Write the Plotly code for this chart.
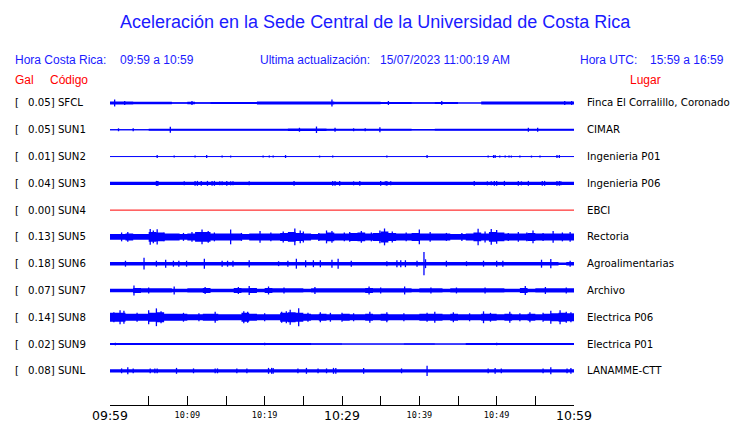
import plotly.graph_objects as go

# ---------------- data ----------------
CODES = ["SFCL", "SUN1", "SUN2", "SUN3", "SUN4", "SUN5", "SUN6", "SUN7", "SUN8", "SUN9", "SUNL"]
GAL_MAX = ["0.05", "0.05", "0.01", "0.04", "0.00", "0.13", "0.18", "0.07", "0.14", "0.02", "0.08"]
PLACES = ["Finca El Corralillo, Coronado", "CIMAR", "Ingenieria P01", "Ingenieria P06", "EBCI",
          "Rectoria", "Agroalimentarias", "Archivo", "Electrica P06", "Electrica P01", "LANAMME-CTT"]

TICK_MIN_ALL = [0, 5, 10, 15, 20, 25, 30, 35, 40, 45, 50, 55, 60]
TICK_MIN_MAJOR = [0, 30, 60]
TICK_LBL_MAJOR = ["09:59", "10:29", "10:59"]
TICK_MIN_MINOR = [10, 20, 40, 50]
TICK_LBL_MINOR = ["10:09", "10:19", "10:39", "10:49"]

# per-minute dense envelope (half amplitude, Gal), minutes 0..59 after 09:59
ENV_SFCL = [0.023, 0.023, 0.023, 0.020, 0.020, 0.020, 0.020, 0.020, 0.012, 0.012,
            0.020, 0.012, 0.012, 0.015, 0.015, 0.015, 0.015, 0.015, 0.015, 0.022,
            0.022, 0.022, 0.022, 0.022, 0.022, 0.022, 0.022, 0.022, 0.022, 0.020,
            0.020, 0.020, 0.020, 0.020, 0.020, 0.015, 0.015, 0.015, 0.015, 0.012,
            0.012, 0.012, 0.015, 0.015, 0.015, 0.008, 0.008, 0.008, 0.022, 0.022,
            0.022, 0.022, 0.022, 0.022, 0.022, 0.022, 0.022, 0.022, 0.022, 0.022]
ENV_SUN1 = [0.009, 0.009, 0.009, 0.009, 0.009, 0.017, 0.017, 0.017, 0.017, 0.017,
            0.017, 0.017, 0.017, 0.017, 0.017, 0.017, 0.017, 0.017, 0.017, 0.017,
            0.017, 0.017, 0.017, 0.020, 0.020, 0.020, 0.020, 0.020, 0.017, 0.017,
            0.017, 0.017, 0.017, 0.017, 0.017, 0.017, 0.017, 0.017, 0.017, 0.012,
            0.012, 0.012, 0.017, 0.017, 0.017, 0.017, 0.017, 0.017, 0.017, 0.017,
            0.017, 0.017, 0.017, 0.017, 0.017, 0.017, 0.017, 0.017, 0.017, 0.017]
ENV_SUN2 = None
ENV_SUN3 = [0.026, 0.026, 0.026, 0.026, 0.026, 0.026, 0.026, 0.026, 0.026, 0.026,
            0.026, 0.026, 0.026, 0.026, 0.026, 0.026, 0.026, 0.026, 0.026, 0.026,
            0.026, 0.026, 0.026, 0.026, 0.026, 0.026, 0.026, 0.026, 0.026, 0.026,
            0.026, 0.026, 0.026, 0.026, 0.026, 0.026, 0.026, 0.026, 0.026, 0.026,
            0.026, 0.026, 0.026, 0.026, 0.026, 0.026, 0.026, 0.026, 0.026, 0.026,
            0.026, 0.026, 0.026, 0.026, 0.026, 0.026, 0.026, 0.026, 0.026, 0.026]
ENV_SUN4 = None
ENV_SUN5 = [0.046, 0.046, 0.054, 0.046, 0.046, 0.077, 0.069, 0.054, 0.054, 0.046,
            0.054, 0.077, 0.077, 0.054, 0.054, 0.054, 0.054, 0.046, 0.054, 0.054,
            0.054, 0.054, 0.062, 0.077, 0.062, 0.054, 0.046, 0.054, 0.069, 0.054,
            0.054, 0.062, 0.069, 0.054, 0.062, 0.085, 0.062, 0.054, 0.054, 0.062,
            0.054, 0.054, 0.054, 0.054, 0.046, 0.046, 0.054, 0.069, 0.054, 0.077,
            0.069, 0.054, 0.054, 0.054, 0.062, 0.054, 0.054, 0.054, 0.054, 0.054]
ENV_SUN6 = [0.028, 0.028, 0.028, 0.028, 0.028, 0.028, 0.028, 0.028, 0.028, 0.028,
            0.028, 0.028, 0.028, 0.028, 0.028, 0.028, 0.028, 0.028, 0.028, 0.028,
            0.028, 0.028, 0.028, 0.028, 0.028, 0.028, 0.028, 0.028, 0.028, 0.028,
            0.028, 0.028, 0.028, 0.028, 0.028, 0.028, 0.028, 0.028, 0.028, 0.028,
            0.028, 0.028, 0.028, 0.028, 0.028, 0.028, 0.028, 0.028, 0.028, 0.028,
            0.028, 0.028, 0.028, 0.028, 0.028, 0.028, 0.028, 0.028, 0.020, 0.028]
ENV_SUN7 = [0.026, 0.026, 0.026, 0.040, 0.033, 0.033, 0.033, 0.033, 0.028, 0.026,
            0.033, 0.033, 0.040, 0.028, 0.028, 0.028, 0.040, 0.033, 0.040, 0.028,
            0.040, 0.033, 0.033, 0.033, 0.033, 0.028, 0.033, 0.033, 0.033, 0.033,
            0.033, 0.033, 0.033, 0.040, 0.033, 0.033, 0.033, 0.033, 0.033, 0.028,
            0.033, 0.033, 0.033, 0.028, 0.033, 0.033, 0.033, 0.033, 0.033, 0.033,
            0.033, 0.028, 0.028, 0.040, 0.028, 0.033, 0.033, 0.033, 0.033, 0.033]
ENV_SUN8 = [0.069, 0.069, 0.054, 0.054, 0.054, 0.069, 0.077, 0.054, 0.054, 0.054,
            0.046, 0.046, 0.054, 0.054, 0.046, 0.046, 0.046, 0.069, 0.054, 0.046,
            0.046, 0.046, 0.069, 0.077, 0.069, 0.054, 0.046, 0.054, 0.046, 0.046,
            0.054, 0.046, 0.046, 0.054, 0.046, 0.054, 0.046, 0.046, 0.046, 0.046,
            0.054, 0.054, 0.054, 0.046, 0.054, 0.046, 0.046, 0.046, 0.054, 0.054,
            0.046, 0.054, 0.046, 0.046, 0.054, 0.046, 0.054, 0.062, 0.069, 0.062]
ENV_SUN9 = [0.015, 0.015, 0.015, 0.015, 0.015, 0.015, 0.015, 0.015, 0.015, 0.015,
            0.015, 0.015, 0.015, 0.015, 0.015, 0.015, 0.015, 0.015, 0.015, 0.015,
            0.015, 0.015, 0.015, 0.015, 0.015, 0.015, 0.012, 0.012, 0.012, 0.012,
            0.008, 0.008, 0.008, 0.008, 0.008, 0.008, 0.008, 0.008, 0.012, 0.012,
            0.012, 0.012, 0.008, 0.008, 0.008, 0.008, 0.015, 0.015, 0.015, 0.015,
            0.015, 0.015, 0.015, 0.015, 0.015, 0.015, 0.015, 0.015, 0.015, 0.015]
ENV_SUNL = [0.026, 0.026, 0.026, 0.026, 0.026, 0.026, 0.026, 0.026, 0.026, 0.026,
            0.026, 0.026, 0.026, 0.026, 0.026, 0.026, 0.026, 0.026, 0.026, 0.026,
            0.026, 0.026, 0.026, 0.026, 0.026, 0.026, 0.026, 0.026, 0.026, 0.026,
            0.026, 0.026, 0.026, 0.026, 0.026, 0.026, 0.026, 0.026, 0.026, 0.026,
            0.026, 0.026, 0.026, 0.026, 0.026, 0.026, 0.026, 0.026, 0.026, 0.026,
            0.026, 0.026, 0.026, 0.026, 0.026, 0.026, 0.026, 0.026, 0.026, 0.026]

# isolated peaks: (minute after 09:59, half amplitude in Gal)
SPK_SFCL = [(0.6, 0.054), (1.9, 0.031), (10.6, 0.031), (28.7, 0.054), (36.0, 0.031),
            (42.9, 0.031), (58.8, 0.031), (59.7, 0.031)]
SPK_SUN1 = [(1.1, 0.023), (3.0, 0.023), (7.8, 0.046), (24.5, 0.031), (26.7, 0.05),
            (29.1, 0.031), (31.5, 0.023), (33.0, 0.023), (34.9, 0.038), (54.1, 0.031), (55.3, 0.031)]
SPK_SUN2 = [(6.1, 0.023), (8.3, 0.015), (11.0, 0.015), (12.5, 0.023), (14.5, 0.015),
            (15.6, 0.015), (19.8, 0.015), (20.6, 0.015), (21.1, 0.015), (22.7, 0.023),
            (27.1, 0.015), (28.8, 0.015), (35.8, 0.015), (41.0, 0.023), (48.9, 0.015),
            (49.6, 0.023), (49.8, 0.023), (50.4, 0.015), (51.1, 0.015), (51.6, 0.015),
            (51.9, 0.015), (53.0, 0.015), (54.5, 0.015), (55.6, 0.015), (57.8, 0.023), (58.1, 0.023)]
SPK_SUN3 = [(6.0, 0.038), (6.1, 0.038), (6.2, 0.038), (9.6, 0.031), (11.0, 0.038),
            (11.3, 0.038), (11.8, 0.038), (12.6, 0.038), (13.2, 0.038), (13.5, 0.038),
            (14.2, 0.031), (14.5, 0.031), (15.1, 0.038), (15.6, 0.031), (15.9, 0.031),
            (18.0, 0.031), (23.8, 0.038), (28.8, 0.038), (29.1, 0.038), (29.7, 0.038),
            (31.5, 0.031), (32.3, 0.038), (35.0, 0.038), (35.6, 0.031), (35.8, 0.038),
            (36.3, 0.031), (47.1, 0.038), (48.8, 0.031), (49.3, 0.031), (49.7, 0.038),
            (50.0, 0.038), (51.0, 0.038), (52.8, 0.038), (53.2, 0.031), (54.1, 0.038),
            (55.9, 0.038), (56.2, 0.038), (57.8, 0.038), (58.1, 0.038), (58.3, 0.031)]
SPK_SUN4 = []
SPK_SUN5 = [(1.5, 0.069), (2.3, 0.077), (5.2, 0.123), (5.6, 0.100), (6.1, 0.118),
            (7.0, 0.069), (9.5, 0.062), (10.6, 0.077), (11.9, 0.115), (12.7, 0.092),
            (13.5, 0.069), (15.6, 0.115), (17.0, 0.062), (19.4, 0.092), (20.8, 0.069),
            (22.4, 0.085), (23.9, 0.131), (24.6, 0.100), (25.0, 0.085), (27.0, 0.062),
            (28.0, 0.100), (28.7, 0.092), (30.3, 0.069), (31.0, 0.077), (32.5, 0.092),
            (33.8, 0.069), (34.9, 0.100), (35.5, 0.131), (36.5, 0.085), (38.3, 0.069),
            (40.0, 0.115), (41.4, 0.077), (43.5, 0.062), (45.5, 0.062), (47.6, 0.128),
            (48.5, 0.085), (49.3, 0.123), (50.0, 0.108), (51.5, 0.062), (52.8, 0.077),
            (53.9, 0.069), (54.7, 0.100), (56.0, 0.062), (57.3, 0.092), (58.5, 0.069), (59.5, 0.077)]
SPK_SUN6 = [(2.0, 0.046), (4.4, 0.092), (6.0, 0.046), (7.2, 0.062), (8.2, 0.046),
            (8.9, 0.046), (9.9, 0.046), (12.2, 0.077), (14.5, 0.046), (15.2, 0.046),
            (15.9, 0.046), (18.0, 0.054), (21.8, 0.038), (23.0, 0.046), (24.1, 0.077),
            (25.3, 0.054), (26.3, 0.054), (27.2, 0.054), (28.7, 0.062), (29.5, 0.077),
            (31.2, 0.046), (35.8, 0.038), (37.1, 0.054), (37.6, 0.054), (38.2, 0.054),
            (39.7, 0.046), (40.6, 0.180), (40.8, 0.069), (43.5, 0.046), (46.1, 0.038),
            (48.3, 0.046), (50.0, 0.046), (50.8, 0.046), (55.8, 0.062), (57.0, 0.072), (59.5, 0.046)]
SPK_SUN7 = [(3.1, 0.077), (5.0, 0.046), (8.3, 0.062), (12.3, 0.054), (16.6, 0.054),
            (18.0, 0.069), (20.5, 0.062), (22.5, 0.046), (26.5, 0.054), (33.5, 0.062),
            (35.0, 0.046), (38.1, 0.062), (41.5, 0.046), (44.8, 0.046), (48.5, 0.046),
            (53.7, 0.069), (56.3, 0.054), (59.0, 0.046)]
SPK_SUN8 = [(0.5, 0.077), (1.3, 0.108), (1.8, 0.100), (3.5, 0.069), (5.0, 0.108),
            (6.0, 0.138), (6.6, 0.092), (9.5, 0.069), (11.5, 0.062), (13.6, 0.085),
            (17.3, 0.092), (17.8, 0.085), (20.0, 0.062), (22.2, 0.085), (22.8, 0.092),
            (23.3, 0.115), (24.4, 0.140), (25.6, 0.069), (27.2, 0.077), (28.5, 0.069),
            (30.0, 0.069), (31.5, 0.062), (33.6, 0.085), (35.8, 0.077), (38.0, 0.062),
            (41.0, 0.069), (42.0, 0.085), (44.4, 0.077), (46.5, 0.062), (48.3, 0.092),
            (49.2, 0.069), (51.7, 0.085), (53.0, 0.062), (54.3, 0.077), (56.0, 0.069),
            (57.0, 0.100), (58.2, 0.108), (59.0, 0.085), (59.6, 0.077)]
SPK_SUN9 = [(0.7, 0.020), (20.0, 0.020), (50.0, 0.020)]
SPK_SUNL = [(1.5, 0.038), (2.3, 0.054), (3.0, 0.038), (5.2, 0.038), (5.8, 0.038),
            (6.1, 0.038), (8.6, 0.046), (10.8, 0.038), (13.6, 0.038), (13.9, 0.038),
            (16.4, 0.038), (17.7, 0.038), (20.5, 0.046), (20.9, 0.046), (21.1, 0.046),
            (24.3, 0.038), (25.4, 0.046), (26.9, 0.038), (28.0, 0.038), (28.9, 0.046),
            (29.2, 0.046), (32.8, 0.046), (37.7, 0.038), (41.0, 0.080), (48.9, 0.038),
            (49.8, 0.046), (50.6, 0.038), (56.0, 0.038), (57.0, 0.054), (59.1, 0.038), (59.6, 0.046)]

ENVS = [ENV_SFCL, ENV_SUN1, ENV_SUN2, ENV_SUN3, ENV_SUN4, ENV_SUN5,
        ENV_SUN6, ENV_SUN7, ENV_SUN8, ENV_SUN9, ENV_SUNL]
SPKS = [SPK_SFCL, SPK_SUN1, SPK_SUN2, SPK_SUN3, SPK_SUN4, SPK_SUN5,
        SPK_SUN6, SPK_SUN7, SPK_SUN8, SPK_SUN9, SPK_SUNL]

# ---------------- layout constants ----------------
W, H = 740, 423
PLOT_L, PLOT_R, PLOT_B = 110, 574, 409
ROW0, ROW_STEP = 104.0, 27.05
PX_PER_GAL = 65.0
BLUE = "#0000ff"
TXT_BLUE = "#1a1aff"
RED = "#ff0000"


def px(x):
    return (x - PLOT_L) / (PLOT_R - PLOT_L)


def py(y):
    return (PLOT_B - y) / PLOT_B


fig = go.Figure()

for i, code in enumerate(CODES):
    c = ROW0 + i * ROW_STEP
    color = RED if float(GAL_MAX[i]) == 0 else BLUE
    env = ENVS[i]
    if env is not None:
        xs = list(range(len(env) + 1))
        e = env + [env[-1]]
        fig.add_trace(go.Scatter(x=xs, y=[c + v * PX_PER_GAL for v in e], mode="lines",
                                 line=dict(width=0, shape="hv", color=color),
                                 hoverinfo="skip", showlegend=False))
        fig.add_trace(go.Scatter(x=xs, y=[c - v * PX_PER_GAL for v in e], mode="lines",
                                 line=dict(width=0, shape="hv", color=color),
                                 fill="tonexty", fillcolor=color,
                                 hoverinfo="skip", showlegend=False))
    # base line
    fig.add_trace(go.Scatter(x=[TICK_MIN_ALL[0], TICK_MIN_ALL[-1]], y=[c, c], mode="lines",
                             line=dict(width=1, color=color), hoverinfo="skip", showlegend=False))
    if SPKS[i]:
        sx, sy = [], []
        for t, a in SPKS[i]:
            sx += [t, t, None]
            sy += [c - a * PX_PER_GAL, c + a * PX_PER_GAL, None]
        fig.add_trace(go.Scatter(x=sx, y=sy, mode="lines", line=dict(width=1.3, color=color),
                                 hoverinfo="skip", showlegend=False))

# dummy for secondary x axis (minor labels)
fig.add_trace(go.Scatter(x=[None], y=[None], xaxis="x2", showlegend=False, hoverinfo="skip"))

ann = []


def add(text, x, y, size, color, family="Liberation Sans", xanchor="left"):
    ann.append(dict(text=text, x=px(x), y=py(y), xref="paper", yref="paper",
                    xanchor=xanchor, yanchor="middle", showarrow=False,
                    font=dict(size=size, color=color, family=family)))


add("Aceleración en la Sede Central de la Universidad de Costa Rica", 375, 22, 18, TXT_BLUE,
    xanchor="center")
add("Hora Costa Rica:", 13, 61, 12, TXT_BLUE)
add("09:59 a 10:59", 118, 61, 12, TXT_BLUE)
add("Ultima actualización:", 258, 61, 12, TXT_BLUE)
add("15/07/2023 11:00:19 AM", 378, 61, 12, TXT_BLUE)
add("Hora UTC:", 578, 61, 12, TXT_BLUE)
add("15:59 a 16:59", 648, 61, 12, TXT_BLUE)
add("Gal", 13, 81, 12, RED)
add("Código", 48, 81, 12, RED)
add("Lugar", 628, 81, 12, RED)

for i, code in enumerate(CODES):
    c = ROW0 + i * ROW_STEP
    add("[", 13, c, 10.2, "black", family="DejaVu Sans")
    add(f"{GAL_MAX[i]}] {code}", 26, c, 10.2, "black", family="DejaVu Sans")
    add(PLACES[i], 585, c, 10.2, "black", family="DejaVu Sans")

fig.update_layout(
    width=W, height=H,
    margin=dict(l=PLOT_L, r=W - PLOT_R, t=0, b=H - PLOT_B),
    paper_bgcolor="white", plot_bgcolor="white",
    showlegend=False, hovermode=False,
    annotations=ann,
    xaxis=dict(range=[0, 60], showgrid=False, zeroline=False,
               showline=True, linecolor="black", linewidth=1,
               ticks="inside", ticklen=9, tickwidth=1, tickcolor="black",
               tickvals=TICK_MIN_ALL,
               ticktext=[TICK_LBL_MAJOR[TICK_MIN_MAJOR.index(t)] if t in TICK_MIN_MAJOR else ""
                         for t in TICK_MIN_ALL],
               ticklabelstandoff=-1,
               tickfont=dict(family="DejaVu Sans", size=12.5, color="black")),
    xaxis2=dict(range=[0, 60], overlaying="x", anchor="y", side="bottom",
                showgrid=False, zeroline=False, showline=False, ticks="",
                tickvals=TICK_MIN_MINOR, ticktext=TICK_LBL_MINOR,
                ticklabelstandoff=3,
                tickfont=dict(family="DejaVu Sans Mono", size=8.5, color="black")),
    yaxis=dict(range=[PLOT_B, 0], visible=False, showgrid=False, zeroline=False),
)

fig.write_html("out.html", config={"displayModeBar": False},
               post_script="document.body.style.margin='0';")
